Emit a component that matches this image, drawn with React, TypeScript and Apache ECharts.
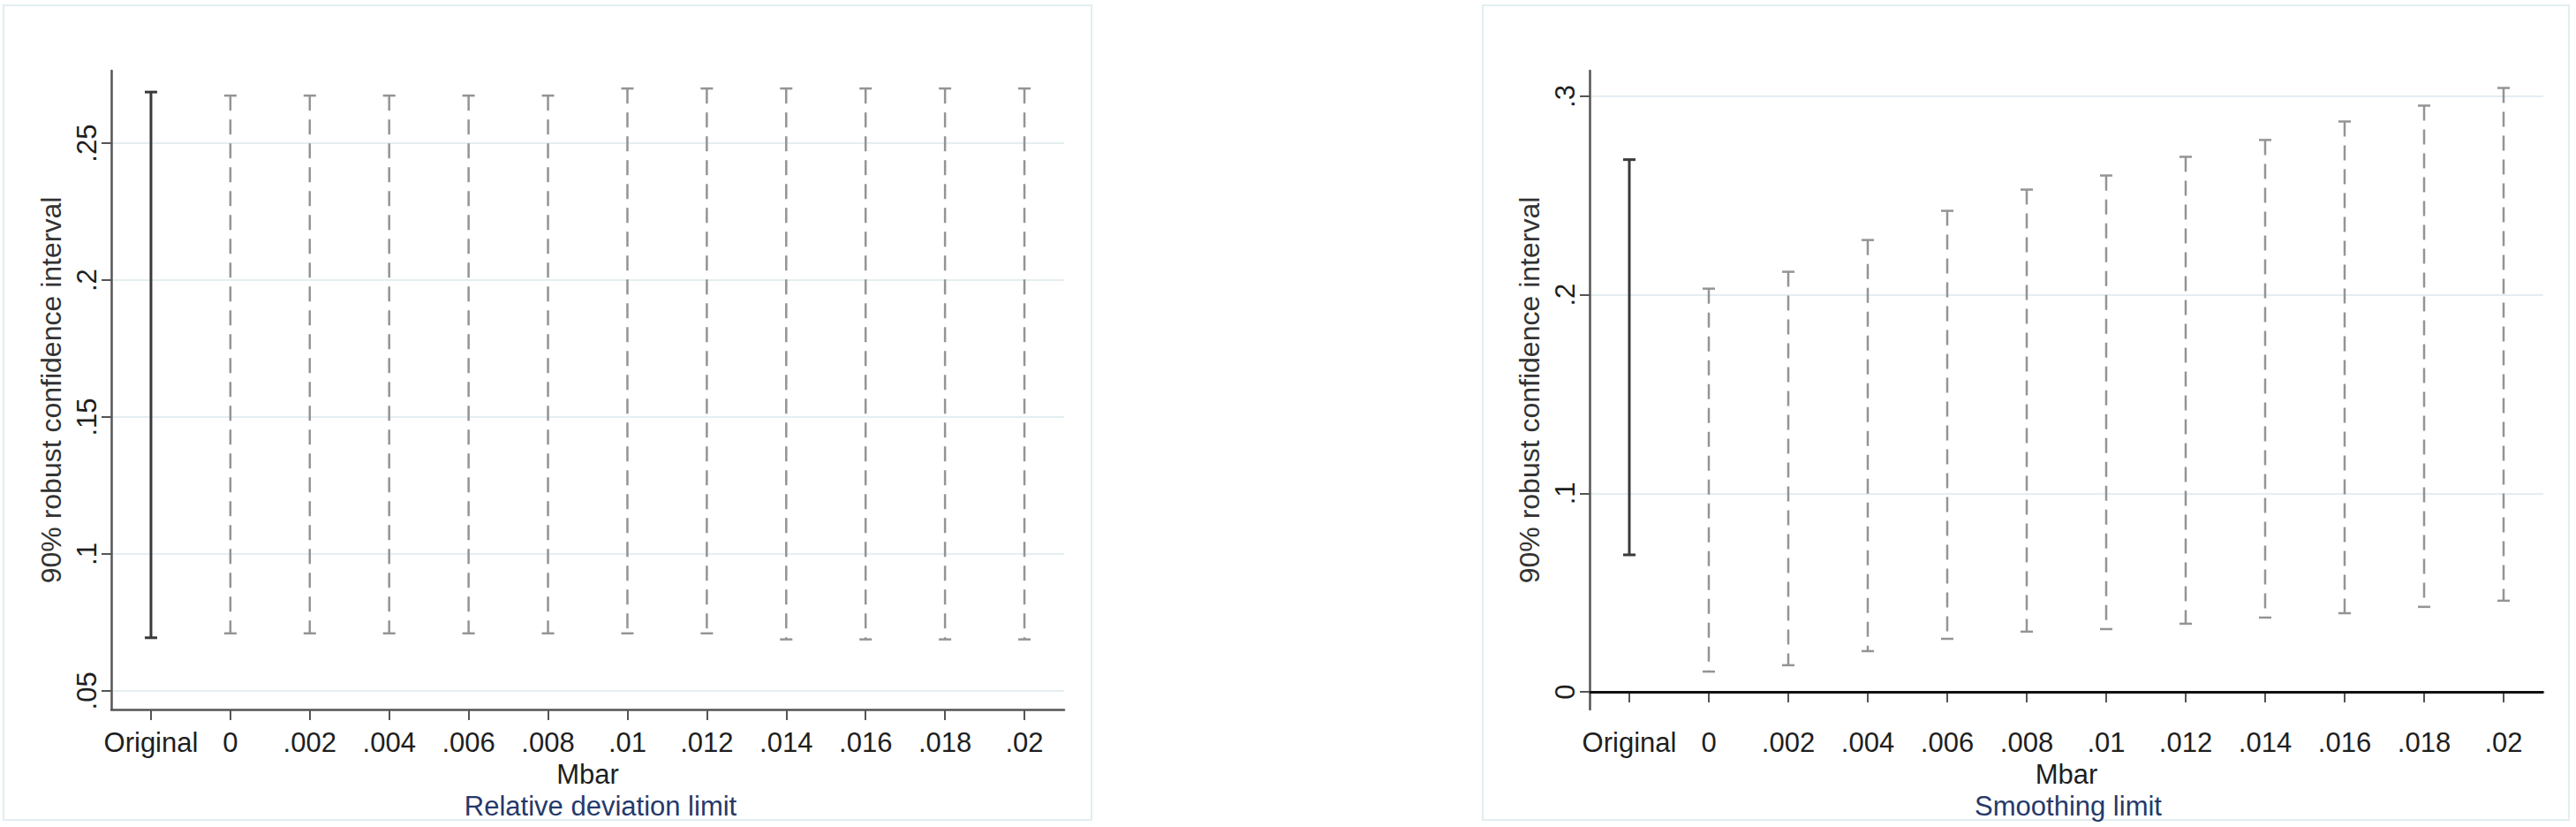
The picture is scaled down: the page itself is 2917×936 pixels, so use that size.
import React, { useEffect, useRef } from "react";
import * as echarts from "echarts";

// ---------- data ----------
const categories = ["Original", "0", ".002", ".004", ".006", ".008", ".01", ".012", ".014", ".016", ".018", ".02"];

// Left panel: Relative deviation limit
const relLow = [0.0694, 0.071, 0.071, 0.071, 0.071, 0.071, 0.071, 0.071, 0.0688, 0.0688, 0.0688, 0.0688];
const relHigh = [0.2687, 0.2674, 0.2674, 0.2674, 0.2674, 0.2674, 0.27, 0.27, 0.27, 0.27, 0.27, 0.27];

// Right panel: Smoothing limit
const smoothLow = [0.069, 0.0102, 0.0134, 0.0205, 0.0267, 0.0303, 0.0316, 0.0343, 0.0374, 0.0396, 0.0428, 0.0459];
const smoothHigh = [0.2681, 0.2031, 0.2116, 0.2276, 0.2423, 0.253, 0.2601, 0.2695, 0.278, 0.2873, 0.2953, 0.3042];

const relTicks = [0.05, 0.1, 0.15, 0.2, 0.25];
const smoothTicks = [0, 0.1, 0.2, 0.3];
const smoothRefLines = [0];

const relRange = [0.0432, 0.2765];
const smoothRange = [-0.0089, 0.3129];

const yTitle = "90% robust confidence interval";
const xTitle = "Mbar";
const panelNotes = ["Relative deviation limit", "Smoothing limit"];

// ---------- styles ----------
const FONT = '"Liberation Sans", Arial, Helvetica, sans-serif';
const AXIS_COLOR = "#555555";
const TEXT_COLOR = "#1e1e1e";
const GRID_COLOR = "#e4eef1";
const FRAME_COLOR = "#e2eef1";
const NOTE_COLOR = "#26396a";

const fmt = (v: number) => (v === 0 ? "0" : String(v).replace(/^(-?)0\./, "$1."));

function renderErr(params: any, api: any) {
  const i = api.value(0);
  const top = api.coord([i, api.value(2)]);
  const bot = api.coord([i, api.value(1)]);
  const solid = categories[i] === "Original";
  const color = solid ? "#3a3a3a" : "#949494";
  const lw = solid ? 3 : 2.5;
  const cap = 7;
  return {
    type: "group",
    children: [
      {
        type: "line",
        shape: { x1: top[0], y1: top[1], x2: bot[0], y2: bot[1] },
        style: { stroke: color, lineWidth: lw, lineDash: solid ? null : [17, 10] },
      },
      {
        type: "line",
        shape: { x1: top[0] - cap, y1: top[1], x2: top[0] + cap, y2: top[1] },
        style: { stroke: color, lineWidth: lw },
      },
      {
        type: "line",
        shape: { x1: bot[0] - cap, y1: bot[1], x2: bot[0] + cap, y2: bot[1] },
        style: { stroke: color, lineWidth: lw },
      },
    ],
  };
}

function xAxisCfg(gridIndex: number) {
  return {
    type: "category",
    gridIndex,
    data: categories,
    name: xTitle,
    nameLocation: "middle",
    nameGap: 55,
    nameTextStyle: { fontSize: 31, fontFamily: FONT, color: TEXT_COLOR },
    axisLine: { show: true, lineStyle: { color: AXIS_COLOR, width: 2.5 } },
    axisTick: { show: true, alignWithLabel: true, length: 12, lineStyle: { color: AXIS_COLOR, width: 2 } },
    axisLabel: { interval: 0, margin: 22, fontSize: 31, fontFamily: FONT, color: TEXT_COLOR },
    splitLine: { show: false },
  };
}

function yAxisCfg(gridIndex: number, range: number[], ticks: number[]) {
  return {
    type: "value",
    gridIndex,
    min: range[0],
    max: range[1],
    name: yTitle,
    nameLocation: "middle",
    nameRotate: 90,
    nameGap: 52,
    nameTextStyle: { fontSize: 32, fontFamily: FONT, color: "#333333" },
    axisLine: { show: true, lineStyle: { color: AXIS_COLOR, width: 2.5 } },
    axisTick: { show: true, length: 11, lineStyle: { color: AXIS_COLOR, width: 2 }, customValues: ticks },
    axisLabel: {
      rotate: 90,
      margin: 12,
      fontSize: 31,
      fontFamily: FONT,
      color: TEXT_COLOR,
      customValues: ticks,
      formatter: fmt,
    },
    splitLine: { show: true, lineStyle: { color: GRID_COLOR, width: 2 } },
  };
}

export default function App() {
  const ref = useRef<HTMLDivElement>(null);

  useEffect(() => {
    document.body.style.margin = "0";
    if (!ref.current) return;
    const chart = echarts.init(ref.current, null, { renderer: "svg" });

    const option: any = {
      animation: false,
      backgroundColor: "#ffffff",
      grid: [
        { left: 126, top: 80, width: 1079, height: 723, containLabel: false },
        { left: 1800, top: 80, width: 1080, height: 723, containLabel: false },
      ],
      xAxis: [xAxisCfg(0), xAxisCfg(1)],
      yAxis: [yAxisCfg(0, relRange, relTicks), yAxisCfg(1, smoothRange, smoothTicks)],
      series: [
        {
          type: "custom",
          name: panelNotes[0],
          xAxisIndex: 0,
          yAxisIndex: 0,
          data: categories.map((_, i) => [i, relLow[i], relHigh[i]]),
          encode: { x: 0, y: [1, 2] },
          renderItem: renderErr,
          z: 3,
        },
        {
          type: "custom",
          name: panelNotes[1],
          xAxisIndex: 1,
          yAxisIndex: 1,
          data: categories.map((_, i) => [i, smoothLow[i], smoothHigh[i]]),
          encode: { x: 0, y: [1, 2] },
          renderItem: renderErr,
          z: 3,
          markLine: {
            silent: true,
            symbol: ["none", "none"],
            label: { show: false },
            lineStyle: { color: "#111111", width: 3, type: "solid" },
            data: smoothRefLines.map((v) => ({ yAxis: v })),
          },
        },
      ],
      graphic: [
        {
          type: "rect",
          silent: true,
          z: -10,
          shape: { x: 4, y: 6, width: 1232, height: 922 },
          style: { fill: "none", stroke: FRAME_COLOR, lineWidth: 2 },
        },
        {
          type: "rect",
          silent: true,
          z: -10,
          shape: { x: 1679, y: 6, width: 1230, height: 922 },
          style: { fill: "none", stroke: FRAME_COLOR, lineWidth: 2 },
        },
        {
          type: "text",
          x: 680,
          y: 912,
          style: {
            text: panelNotes[0],
            fontSize: 31,
            fontFamily: FONT,
            fill: NOTE_COLOR,
            align: "center",
            verticalAlign: "middle",
            textAlign: "center",
            textVerticalAlign: "middle",
          },
        },
        {
          type: "text",
          x: 2342,
          y: 912,
          style: {
            text: panelNotes[1],
            fontSize: 31,
            fontFamily: FONT,
            fill: NOTE_COLOR,
            align: "center",
            verticalAlign: "middle",
            textAlign: "center",
            textVerticalAlign: "middle",
          },
        },
      ],
    };

    chart.setOption(option);
    return () => chart.dispose();
  }, []);

  return <div ref={ref} style={{ width: 2917, height: 936 }} />;
}
